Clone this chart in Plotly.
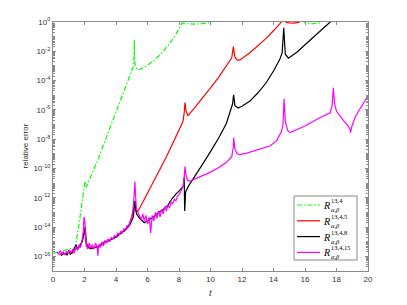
import plotly.graph_objects as go

# ---------------- data (log10 of relative error) ----------------
t_g = [0.0, 0.2, 0.4, 0.6, 0.8, 1.0, 1.2, 1.4, 1.6, 1.8, 1.95, 2.03, 2.1, 2.3, 2.67, 2.9, 3.2, 3.6, 4.0,
       4.45, 4.8, 5.08, 5.14, 5.16, 5.18, 5.25, 5.4, 5.6, 6.0, 6.5, 7.0, 7.43, 7.8, 8.2, 8.5, 9.0, 9.5,
       9.9, 10.2, 11.0, 12.0, 13.0, 14.0, 15.0, 15.8, 16.0, 16.5, 17.0, 17.3, 18.0, 19.0, 20.0]
e_g = [-15.8, -15.75, -15.7, -15.65, -15.6, -15.55, -15.5, -15.4, -14.2, -12.7, -11.3, -10.9, -11.3, -10.8, -9.93, -9.27,
       -8.4, -7.3, -6.1, -4.9, -3.9, -3.06, -2.5, -1.22, -2.6, -3.1, -3.27, -3.2, -2.95, -2.55, -2.0, -1.43, -0.85, -0.07,
       -0.12, -0.15, -0.12, -0.05, 0.3, 0.5, 0.6, 0.6, 0.5, 0.4, 0.2, -0.05, -0.12, -0.05, 0.3, 0.5, 0.6, 0.7]

t_r = [0.4, 0.6, 0.8, 1.0, 1.2, 1.4, 1.6, 1.8, 1.95, 2.02, 2.1, 2.2, 2.4, 2.6, 2.8, 3.0, 3.3, 3.6, 3.9, 4.2,
       4.5, 4.8, 5.0, 5.1, 5.18, 5.25, 5.4, 5.7, 6.0, 6.4, 6.8, 7.2, 7.6, 8.0, 8.25, 8.33, 8.38, 8.45, 8.57,
       9.0, 9.5, 10.0, 10.5, 11.0, 11.35, 11.45, 11.55, 11.7, 11.87, 12.5, 13.0, 13.5, 14.0, 14.5, 14.7,
       14.8, 15.0, 15.3, 15.6, 15.8, 17.0, 20.0]
e_r = [-15.9, -15.75, -15.85, -15.7, -15.8, -15.5, -15.4, -15.1, -14.6, -14.2, -15.0, -15.25, -15.5, -15.35, -15.4,
       -15.3, -15.0, -14.9, -14.7, -14.5, -14.25, -13.9, -13.3, -12.8, -12.3, -12.9, -12.9, -12.3, -11.7, -10.9,
       -10.05, -9.2, -8.3, -7.4, -6.8, -6.2, -5.5, -6.1, -6.4, -5.85, -5.2, -4.5, -3.8, -3.05, -2.45, -1.68, -2.4,
       -2.6, -2.59, -2.1, -1.65, -1.15, -0.6, 0.0, 0.5, -0.03, -0.06, -0.08, -0.03, 0.3, 0.7, 0.8]

t_k = [0.5, 0.7, 0.9, 1.0, 1.1, 1.3, 1.46, 1.55, 1.7, 1.85, 1.95, 2.05, 2.12, 2.25, 2.5, 2.8, 3.1, 3.4, 3.7,
       4.0, 4.3, 4.6, 4.9, 5.1, 5.2, 5.3, 5.5, 5.8, 6.1, 6.4, 6.7, 7.0, 7.3, 7.53, 7.8, 8.0, 8.27, 8.33, 8.36,
       8.42, 8.6, 9.0, 9.5, 10.0, 10.5, 11.0, 11.4, 11.47, 11.55, 11.75, 12.0, 12.5, 13.0, 13.5, 14.0, 14.4,
       14.55, 14.65, 14.75, 14.95, 15.5, 16.0, 16.5, 17.0, 17.6, 17.8, 20.0]
e_k = [-15.95, -15.8, -15.9, -15.6, -15.85, -15.6, -15.2, -15.5, -15.3, -15.0, -14.5, -14.0, -15.3, -15.4, -15.45,
       -15.35, -15.15, -15.0, -14.85, -14.7, -14.45, -14.2, -13.8, -13.3, -12.2, -13.1, -13.4, -13.7, -13.5, -13.3,
       -13.0, -12.8, -12.5, -12.1, -11.75, -11.55, -11.2, -10.6, -12.9, -11.6, -11.2, -10.5, -9.7, -8.85, -7.95,
       -6.95, -5.6, -4.97, -5.7, -5.87, -5.75, -5.4, -4.85, -4.2, -3.35, -2.55, -2.1, -0.4, -2.2, -2.47, -2.05,
       -1.55, -1.05, -0.55, 0.0, 0.3, 0.8]

t_m = [0.25, 0.35, 0.45, 0.55, 0.65, 0.75, 0.85, 0.95, 1.05, 1.15, 1.25, 1.35, 1.45, 1.55, 1.65, 1.75, 1.85,
       1.92, 1.97, 2.02, 2.07, 2.12, 2.2, 2.3, 2.4, 2.5, 2.6, 2.7, 2.8, 2.85, 2.9, 3.0, 3.1, 3.2, 3.3, 3.4, 3.5,
       3.6, 3.7, 3.8, 3.9, 4.0, 4.1, 4.2, 4.3, 4.4, 4.5, 4.6, 4.7, 4.8, 4.9, 5.0, 5.1, 5.15, 5.2, 5.25, 5.3,
       5.4, 5.5, 5.6, 5.7, 5.8, 5.9, 6.0, 6.1, 6.2, 6.3, 6.4, 6.5, 6.6, 6.7, 6.8, 6.9, 7.0, 7.1, 7.2, 7.3, 7.4,
       7.5, 7.6, 7.7, 7.8, 7.9, 8.0, 8.1, 8.2, 8.27, 8.33, 8.38, 8.45, 8.55, 8.7, 9.5, 10.0, 10.5, 11.0, 11.35,
       11.45, 11.47, 11.55, 11.7, 11.87, 12.3, 12.8, 13.3, 13.8, 14.2, 14.5, 14.6, 14.67, 14.75, 14.9, 15.05,
       15.5, 16.0, 16.5, 17.0, 17.6, 17.72, 17.8, 17.88, 18.0, 18.2, 18.5, 18.75, 18.85, 18.9, 18.95, 19.2, 19.6,
       20.0]
e_m = [-15.7, -15.85, -15.6, -15.8, -15.7, -15.9, -15.65, -15.8, -15.6, -15.75, -15.5, -15.8, -15.3, -15.6, -15.2,
       -15.4, -14.9, -14.3, -13.3, -13.6, -14.6, -15.2, -15.5, -15.1, -15.4, -15.2, -15.5, -15.1, -15.3, -15.95,
       -15.2, -15.4, -15.0, -15.3, -14.9, -15.1, -14.8, -15.0, -14.7, -14.85, -14.6, -14.7, -14.4, -14.55, -14.3,
       -14.4, -14.1, -14.25, -13.9, -14.0, -13.6, -13.4, -12.6, -11.8, -10.9, -12.0, -12.8, -13.0, -13.2, -13.5,
       -13.1, -13.6, -13.2, -13.8, -13.3, -14.4, -13.2, -13.6, -13.0, -13.4, -12.9, -13.3, -12.8, -13.1, -12.6,
       -12.9, -12.5, -12.7, -12.3, -12.4, -12.1, -12.2, -11.9, -11.8, -11.6, -11.4, -11.2, -10.6, -9.86, -10.5,
       -10.8, -10.86, -10.5, -10.25, -9.95, -9.6, -9.2, -8.5, -7.9, -8.7, -9.0, -9.05, -8.95, -8.8, -8.65, -8.45,
       -8.1, -7.5, -7.0, -5.25, -6.8, -7.4, -7.55, -7.35, -7.1, -6.8, -6.5, -6.2, -5.7, -4.5, -5.6, -6.1, -6.4,
       -6.8, -7.1, -7.3, -7.55, -7.2, -6.45, -5.7, -5.03]

legend_sup = ["13,4", "13,4,5", "13,4,8", "13,4,15"]
legend_sub = "α,β"

y_tick_exp = [0, -2, -4, -6, -8, -10, -12, -14, -16]
x_ticks = [0, 2, 4, 6, 8, 10, 12, 14, 16, 18, 20]

# ---------------- geometry helpers (layout only) ----------------
W, H = 407, 305
ML, MR, MT, MB = 53, 39, 22, 34
PW, PH = W - ML - MR, H - MT - MB


def px(xp):
    return (xp - ML) / PW


def py(yp):
    return 1 - (yp - MT) / PH


# ---------------- figure ----------------
fig = go.Figure()
series = [(t_g, e_g, "#00ff00", "5px,2px,1.5px,2px"),
          (t_r, e_r, "#ff0000", "solid"),
          (t_k, e_k, "#000000", "solid"),
          (t_m, e_m, "#ff00ff", "solid")]
for (tt, ee, col, dash), sup in zip(series, legend_sup):
    fig.add_trace(go.Scatter(x=tt, y=[10 ** v for v in ee], mode="lines",
                             name="R<sup>%s</sup><sub>%s</sub>" % (sup, legend_sub),
                             showlegend=False,
                             line=dict(color=col, width=1.2, dash=dash)))

axcol = "#8a8a8a"
tickfont = dict(family="Liberation Sans, Arial, sans-serif", size=8, color="#333333")

shapes = [dict(type="rect", xref="paper", yref="paper", x0=px(294), x1=px(357), y0=py(260), y1=py(196),
               line=dict(color=axcol, width=1), fillcolor="white", layer="above")]
annotations = [
    dict(text="relative error", x=px(25), y=0.5, xref="paper", yref="paper",
         xanchor="center", yanchor="middle",
         textangle=-90, showarrow=False,
         font=dict(family="Liberation Sans, Arial, sans-serif", size=8, color="#333333")),
    dict(text="<i>t</i>", x=0.5, y=py(292), xref="paper", yref="paper", showarrow=False,
         xanchor="center", yanchor="middle",
         font=dict(family="Liberation Serif, Times New Roman, serif", size=10, color="#333333")),
]
serif = "Liberation Serif, Times New Roman, serif"
for i, ((tt, ee, col, dash), sup) in enumerate(zip(series, legend_sup)):
    yc = 205 + 15.8 * i
    shapes.append(dict(type="line", xref="paper", yref="paper", x0=px(297), x1=px(320), y0=py(yc), y1=py(yc),
                       line=dict(color=col, width=1.2, dash=dash), layer="above"))
    annotations.append(dict(text="<i>R</i>", x=px(321), y=py(yc + 0.5), xref="paper", yref="paper",
                            xanchor="left", yanchor="middle", showarrow=False,
                            font=dict(family=serif, size=10, color="#000")))
    annotations.append(dict(text=sup, x=px(328.5), y=py(yc - 4.5), xref="paper", yref="paper",
                            xanchor="left", yanchor="middle", showarrow=False,
                            font=dict(family=serif, size=6.5, color="#000")))
    annotations.append(dict(text="<i>%s</i>" % legend_sub, x=px(328.5), y=py(yc + 4.5), xref="paper",
                            yref="paper", xanchor="left", yanchor="middle", showarrow=False,
                            font=dict(family=serif, size=6.5, color="#000")))

fig.update_layout(
    width=W, height=H,
    margin=dict(l=ML, r=MR, t=MT, b=MB),
    paper_bgcolor="white", plot_bgcolor="white",
    showlegend=False,
    xaxis=dict(range=[0, 20], tickvals=x_ticks, ticktext=[str(v) for v in x_ticks], automargin=False,
               ticks="inside", ticklen=3, tickcolor=axcol, showline=True, linecolor=axcol,
               linewidth=1, mirror="allticks", showgrid=False, zeroline=False, tickfont=tickfont),
    yaxis=dict(type="log", range=[-17, 0], automargin=False,
               tickvals=[10 ** e for e in y_tick_exp],
               ticktext=["10<sup>%d</sup>" % e for e in y_tick_exp],
               ticks="inside", ticklen=3, tickcolor=axcol, showline=True, linecolor=axcol,
               linewidth=1, mirror="allticks", showgrid=False, zeroline=False, tickfont=tickfont,
               minor=dict(ticks="inside", ticklen=2, tickcolor=axcol, dtick="D1", showgrid=False)),
    shapes=shapes,
    annotations=annotations,
)
fig.write_html("out.html", config={"displayModeBar": False},
               post_script="document.body.style.margin='0';document.body.style.padding='0';")
